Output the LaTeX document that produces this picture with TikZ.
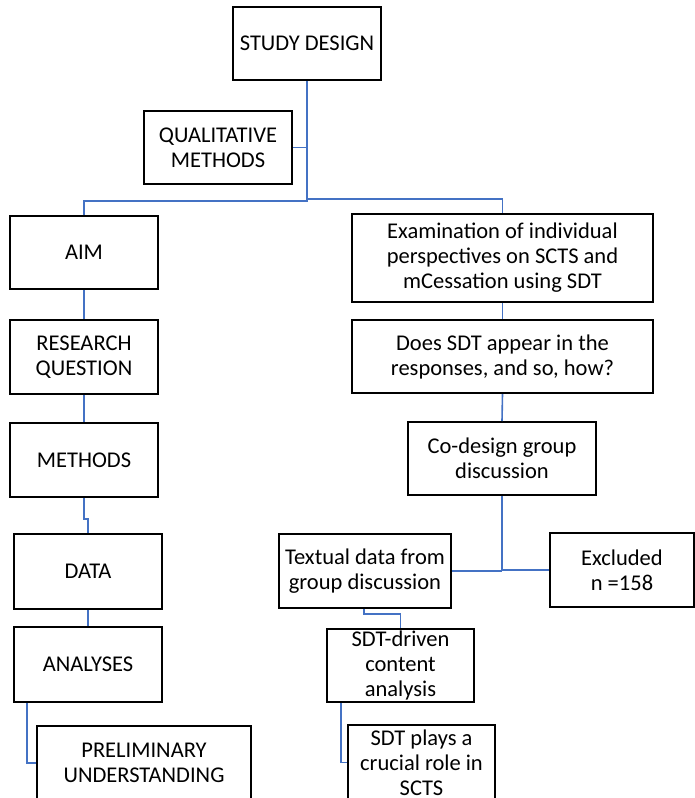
\documentclass[tikz,border=0pt]{standalone}
\usepackage{fontspec}
\setmainfont{Carlito}
\usetikzlibrary{calc}
\definecolor{linkblue}{HTML}{4472C4}
\begin{document}
\begin{tikzpicture}[x=1pt,y=-1pt,
  box/.style={draw=black, line width=2pt, fill=white, align=center, inner sep=0pt,
    font=\fontsize{22.5}{25}\selectfont, minimum width=#1},
  box/.default=148pt,
  conn/.style={draw=linkblue, line width=1.6pt}]
\useasboundingbox (0,0) rectangle (695,798);
\clip (0,0) rectangle (695,798);

% left column
\node[box, minimum height=73pt] (sd) at (307,43.5) {STUDY DESIGN};
\node[box, minimum height=73pt] (qm) at (218,147.5) {QUALITATIVE\\METHODS};
\node[box, minimum height=73pt] (aim) at (84,252.5) {AIM};
\node[box, minimum height=74pt] (rq) at (84,357) {RESEARCH\\QUESTION};
\node[box, minimum height=74pt] (meth) at (84,460) {METHODS};
\node[box, minimum height=75pt] (data) at (88,571.5) {DATA};
\node[box, minimum height=75pt] (anal) at (88,664.5) {ANALYSES};
\node[box=214pt, minimum height=74pt] (prel) at (144,763) {PRELIMINARY\\UNDERSTANDING};

% right column
\node[box=301pt, minimum height=88pt] (exam) at (502.5,258) {Examination of individual\\perspectives on SCTS and\\mCessation using SDT};
\node[box=301pt, minimum height=73pt] (does) at (502.5,356.5) {Does SDT appear in the\\responses, and so, how?};
\node[box=188pt, minimum height=73pt] (codes) at (502,458.5) {Co-design group\\discussion};
\node[box=172pt, minimum height=74pt] (txt) at (365,571) {Textual data from\\group discussion};
\node[box=144pt, minimum height=74pt] (excl) at (622,570) {Excluded\\n =158};
\node[box=147pt, minimum height=73pt] (sdtd) at (400.5,665.5) {SDT-driven\\content\\analysis};
\node[box=147pt, minimum height=75pt] (sdtp) at (421.5,762.5) {SDT plays a\\crucial role in\\SCTS};

% connectors
\coordinate (split) at ($(sd.south)+(0,120)$);
\draw[conn] (sd.south) -- (split) -| (aim.north);
\draw[conn] ($(split)+(0,-2)$) -| (exam.north);
\draw[conn] (qm.east) -- (qm.east -| sd.south);
\draw[conn] (aim.south) -- (rq.north);
\draw[conn] (rq.south) -- (meth.north);
\draw[conn] (meth.south) -- ++(0,21) -| (data.north);
\draw[conn] (data.south) -- (anal.north);
\draw[conn] ($(anal.south west)+(14,0)$) |- (prel.west);
\draw[conn] (exam.south) -- (does.north);
\draw[conn] (does.south) -- (codes.north);
\draw[conn] (codes.south) -- (codes.south |- txt.east);
\draw[conn] (txt.east) -- (codes.south |- txt.east);
\draw[conn] (codes.south |- excl.west) -- (excl.west);
\draw[conn] ($(txt.south)+(-1,0)$) -- ++(0,5) -| (sdtd.north);
\draw[conn] ($(sdtd.south west)+(15,0)$) |- (sdtp.west);
\end{tikzpicture}
\end{document}
